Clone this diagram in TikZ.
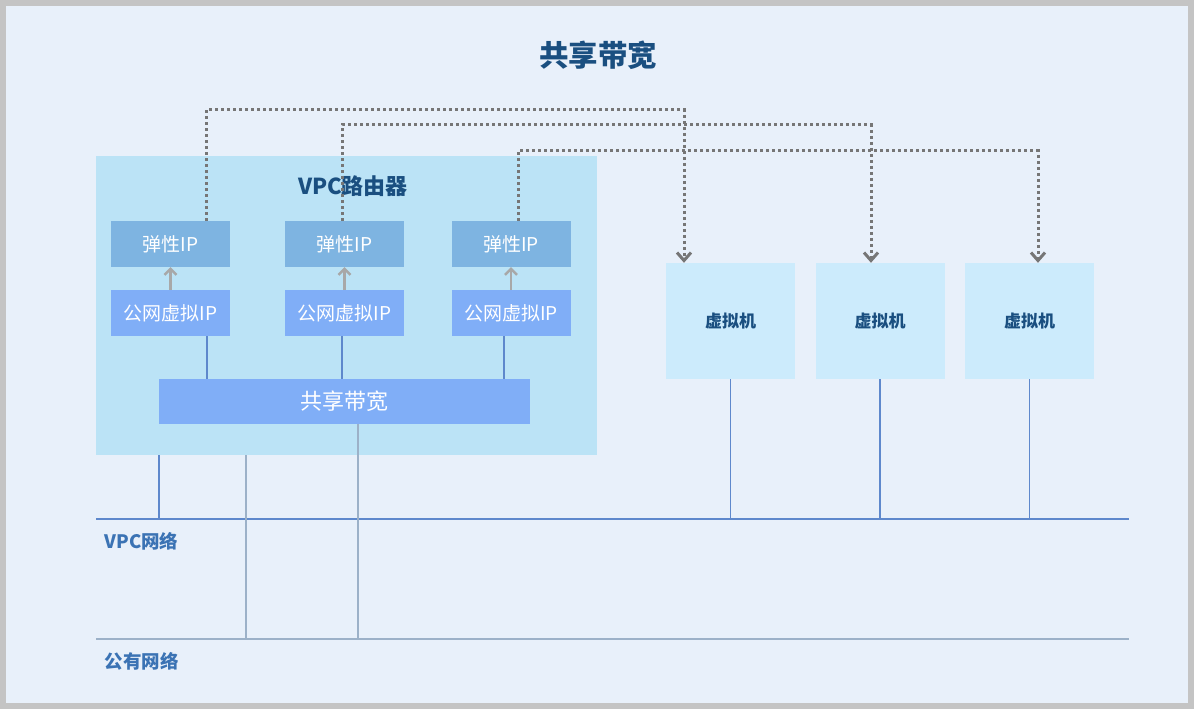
\documentclass[tikz,border=0pt]{standalone}
\usepackage{fontspec}
\setmainfont{Noto Sans CJK SC}
\usepackage{tikz}
\usetikzlibrary{arrows.meta,positioning,calc}
\definecolor{bwframe}{HTML}{C4C4C4}
\definecolor{bwpanel}{HTML}{E8F0FA}
\definecolor{bwrouter}{HTML}{BBE3F6}
\definecolor{bweip}{HTML}{7EB4E1}
\definecolor{bwpip}{HTML}{80AEF7}
\definecolor{bwvm}{HTML}{CCEBFC}
\definecolor{bwdark}{HTML}{1A4F80}
\definecolor{bwlabel}{HTML}{3B73B4}
\definecolor{bwline}{HTML}{5E88CC}
\definecolor{bwgrayline}{HTML}{9CB1C8}
\definecolor{bwdot}{HTML}{767676}
\definecolor{bwarr}{HTML}{A8A8A8}

\begin{document}
\begin{tikzpicture}[
    x=1pt,y=-1pt,
    box/.style     = {draw=none, inner sep=0pt, align=center},
    router/.style  = {box, fill=bwrouter, minimum width=501pt, minimum height=299pt},
    eip/.style     = {box, fill=bweip, text=white, font=\fontsize{19}{22}\selectfont,
                      minimum width=119pt, minimum height=46pt},
    pip/.style     = {box, fill=bwpip, text=white, font=\fontsize{19}{22}\selectfont,
                      minimum width=119pt, minimum height=46pt},
    bar/.style     = {box, fill=bwpip, text=white, font=\fontsize{22}{25}\selectfont,
                      minimum width=371pt, minimum height=45pt},
    vm/.style      = {box, fill=bwvm, text=bwdark, font=\fontsize{17}{20}\selectfont\bfseries,
                      minimum width=129pt, minimum height=116pt},
    netlbl/.style  = {font=\fontsize{18.5}{21}\selectfont\bfseries, text=bwlabel, anchor=west},
    lnk/.style     = {bwline, line width=1.5pt},
    publnk/.style  = {bwgrayline, line width=2pt},
    uparr/.style   = {-{Straight Barb[length=6pt,width=12pt]}, bwarr, line width=2.5pt},
    eiplink/.style = {-{Straight Barb[length=8pt,width=14pt]}, bwdot, line width=3pt,
                      dash pattern=on 3pt off 3pt},
  ]

  \useasboundingbox (0,0) rectangle (1194,709);
  \fill[bwframe] (0,0) rectangle (1194,709);
  \fill[bwpanel] (6,6) rectangle (1188,703);

  \node[font=\fontsize{29.5}{33}\selectfont\bfseries,text=bwdark] (title) at (598,55) {共享带宽};

  \node[router] (router) at (346.5,305.5) {};
  \node[font=\fontsize{22}{25}\selectfont\bfseries,text=bwdark] (rtitle) at (353,186) {VPC路由器};

  \foreach \i/\x in {1/170.5,2/344.5,3/511} {
    \node[eip] (eip\i) at (\x,244) {弹性IP};
    \node[pip] (pip\i) at (\x,313) {公网虚拟IP};
    \draw[uparr] (pip\i) -- (eip\i);
  }
  \node[bar] (bar) at (344.5,401.5) {共享带宽};

  \foreach \i/\x in {1/730.5,2/880,3/1029.5}
    \node[vm] (vm\i) at (\x,321) {虚拟机};

  % networks
  \coordinate (vpcL) at (96,519);
  \coordinate (vpcR) at (1129,519);
  \coordinate (pubL) at (96,639);
  \coordinate (pubR) at (1129,639);
  \draw[lnk] (vpcL) -- (vpcR);
  \draw[publnk] (pubL) -- (pubR);
  \node[netlbl] (vpcnet) at (101,541) {VPC网络};
  \node[netlbl] (pubnet) at (101,661) {公有网络};

  \foreach \i/\d in {1/36.5,2/-2.5,3/-7}
    \draw[lnk] ([xshift=\d pt]pip\i.south) -- ([xshift=\d pt]pip\i.south |- bar.north);
  \foreach \i in {1,2,3} \draw[lnk] (vm\i.south) -- (vm\i.south |- vpcL);

  \draw[lnk] ([xshift=-187.5pt]router.south) -- ([xshift=-187.5pt]router.south |- vpcL);
  \draw[publnk] ([xshift=-100.5pt]router.south) -- ([xshift=-100.5pt]router.south |- pubL);
  \draw[publnk] ([xshift=13.5pt]bar.south) -- ([xshift=13.5pt]bar.south |- pubL);

  % eip to vm
  \foreach \i/\a/\b/\h in {1/35.5/-46.5/153,2/-2.5/-9/138,3/7/8.5/112}
    \draw[eiplink] ([xshift=\a pt]eip\i.north) |- ([xshift=\b pt,yshift=\h pt]vm\i.north)
                   -- ([xshift=\b pt]vm\i.north);

\end{tikzpicture}
\end{document}
